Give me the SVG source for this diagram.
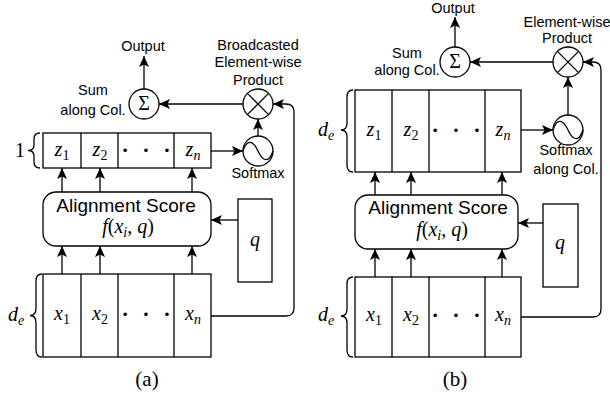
<svg xmlns="http://www.w3.org/2000/svg" width="610" height="399" viewBox="0 0 610 399">
<style>
.bx{fill:#fff;stroke:#000;stroke-width:1.3}
.ln{fill:none;stroke:#000;stroke-width:1.3}
.ar{fill:none;stroke:#000;stroke-width:1.3;marker-end:url(#ah)}
.lb{font-family:"Liberation Sans",Arial,sans-serif;font-size:14.5px;fill:#000;text-anchor:middle}
.big{font-family:"Liberation Sans",Arial,sans-serif;font-size:19px;fill:#000;text-anchor:middle}
.m{font-family:"Liberation Serif","Times New Roman",serif;font-style:italic;font-size:20px;fill:#000;text-anchor:middle}
.s{font-style:normal;font-size:14px}
.si{font-style:italic;font-size:14px}
.r{font-family:"Liberation Serif","Times New Roman",serif;font-size:20px;fill:#000;text-anchor:middle}
.cap{font-family:"Liberation Serif","Times New Roman",serif;font-size:21px;fill:#000;text-anchor:middle}
.dots{font-family:"Liberation Serif",serif;font-size:22px;font-weight:bold;fill:#000;text-anchor:middle;letter-spacing:4px}
</style>
<defs>
<marker id="ah" markerUnits="userSpaceOnUse" markerWidth="12" markerHeight="10" refX="11" refY="5" orient="auto">
<path d="M0,0 L11,5 L0,10 L2.5,5 Z" fill="#000"/>
</marker>
</defs>

<!-- ===== Panel (a) ===== -->
<g id="a-zvec">
<rect class="bx" x="43" y="133" width="168" height="35"/>
<line class="ln" x1="81" y1="133" x2="81" y2="168"/>
<line class="ln" x1="118" y1="133" x2="118" y2="168"/>
<line class="ln" x1="174" y1="133" x2="174" y2="168"/>
<text class="m" x="62" y="156">z<tspan class="s" dy="4">1</tspan></text>
<text class="m" x="100" y="156">z<tspan class="s" dy="4">2</tspan></text>
<text class="dots" x="148" y="157">· · ·</text>
<text class="m" x="193" y="156">z<tspan class="si" dy="4">n</tspan></text>
<path class="ln" d="M40,133 Q34,133 34,139 L34,145 Q34,150.5 28,150.5 Q34,150.5 34,156 L34,162 Q34,168 40,168"/>
<text class="r" x="20" y="157">1</text>
</g>

<g id="a-align">
<rect class="bx" x="43" y="192" width="168" height="54" rx="13"/>
<text class="big" x="126" y="212">Alignment Score</text>
<text class="m" x="128" y="233">f<tspan font-style="normal">(</tspan>x<tspan class="si" dy="4">i</tspan><tspan dy="-4" font-style="normal">, </tspan>q<tspan font-style="normal">)</tspan></text>
</g>

<g id="a-q">
<rect class="bx" x="238" y="199" width="34" height="83"/>
<text class="m" x="255" y="246">q</text>
</g>

<g id="a-xvec">
<rect class="bx" x="43" y="274" width="168" height="83"/>
<line class="ln" x1="81" y1="274" x2="81" y2="357"/>
<line class="ln" x1="118" y1="274" x2="118" y2="357"/>
<line class="ln" x1="174" y1="274" x2="174" y2="357"/>
<text class="m" x="62" y="320">x<tspan class="s" dy="4">1</tspan></text>
<text class="m" x="100" y="320">x<tspan class="s" dy="4">2</tspan></text>
<text class="dots" x="148" y="321">· · ·</text>
<text class="m" x="193" y="320">x<tspan class="si" dy="4">n</tspan></text>
<path class="ln" d="M42,274 Q36,274 36,281 L36,308 Q36,315.5 30,315.5 Q36,315.5 36,323 L36,350 Q36,357 42,357"/>
<text class="m" x="16" y="321">d<tspan class="si" dy="4">e</tspan></text>
</g>

<g id="a-softmax">
<circle class="bx" cx="258" cy="151" r="15"/>
<path class="ln" d="M243,151 C247,139 253,140 258,151 C263,162 269,163 273,151"/>
<text class="lb" x="258" y="178">Softmax</text>
</g>

<g id="a-prod">
<circle class="bx" cx="258" cy="104" r="15"/>
<line class="ln" x1="247.4" y1="93.4" x2="268.6" y2="114.6"/>
<line class="ln" x1="247.4" y1="114.6" x2="268.6" y2="93.4"/>
<text class="lb" x="258" y="50">Broadcasted</text>
<text class="lb" x="258" y="67">Element-wise</text>
<text class="lb" x="258" y="85">Product</text>
</g>

<g id="a-sum">
<circle class="bx" cx="144" cy="104" r="15"/>
<text class="r" x="144" y="110">Σ</text>
<text class="lb" x="93" y="95">Sum</text>
<text class="lb" x="93" y="115">along Col.</text>
</g>

<g id="a-output">
<text class="lb" x="143" y="51">Output</text>
</g>

<text class="cap" x="147" y="386">(a)</text>

<!-- ===== Panel (b) ===== -->
<g id="b-zvec">
<rect class="bx" x="355" y="90" width="166" height="82"/>
<line class="ln" x1="392" y1="90" x2="392" y2="172"/>
<line class="ln" x1="429" y1="90" x2="429" y2="172"/>
<line class="ln" x1="485" y1="90" x2="485" y2="172"/>
<text class="m" x="374" y="136">z<tspan class="s" dy="4">1</tspan></text>
<text class="m" x="411" y="136">z<tspan class="s" dy="4">2</tspan></text>
<text class="dots" x="458" y="137">· · ·</text>
<text class="m" x="503" y="136">z<tspan class="si" dy="4">n</tspan></text>
<path class="ln" d="M353,90 Q347,90 347,97 L347,123 Q347,130 341,130 Q347,130 347,137 L347,165 Q347,172 353,172"/>
<text class="m" x="326" y="136">d<tspan class="si" dy="4">e</tspan></text>
</g>

<g id="b-align">
<rect class="bx" x="355" y="195" width="163" height="54" rx="13"/>
<text class="big" x="438" y="214">Alignment Score</text>
<text class="m" x="442" y="236">f<tspan font-style="normal">(</tspan>x<tspan class="si" dy="4">i</tspan><tspan dy="-4" font-style="normal">, </tspan>q<tspan font-style="normal">)</tspan></text>
</g>

<g id="b-q">
<rect class="bx" x="543" y="204" width="35" height="83"/>
<text class="m" x="560" y="249">q</text>
</g>

<g id="b-xvec">
<rect class="bx" x="355" y="277" width="166" height="80"/>
<line class="ln" x1="392" y1="277" x2="392" y2="357"/>
<line class="ln" x1="429" y1="277" x2="429" y2="357"/>
<line class="ln" x1="485" y1="277" x2="485" y2="357"/>
<text class="m" x="374" y="321">x<tspan class="s" dy="4">1</tspan></text>
<text class="m" x="411" y="321">x<tspan class="s" dy="4">2</tspan></text>
<text class="dots" x="458" y="322">· · ·</text>
<text class="m" x="503" y="321">x<tspan class="si" dy="4">n</tspan></text>
<path class="ln" d="M353,277 Q347,277 347,284 L347,309 Q347,316 341,316 Q347,316 347,323 L347,350 Q347,357 353,357"/>
<text class="m" x="326" y="321">d<tspan class="si" dy="4">e</tspan></text>
</g>

<g id="b-softmax">
<circle class="bx" cx="568" cy="130" r="15"/>
<path class="ln" d="M553,130 C557,118 563,119 568,130 C573,141 579,142 583,130"/>
<text class="lb" x="566" y="155">Softmax</text>
<text class="lb" x="566" y="174">along Col.</text>
</g>

<g id="b-prod">
<circle class="bx" cx="568" cy="62" r="15"/>
<line class="ln" x1="557.4" y1="51.4" x2="578.6" y2="72.6"/>
<line class="ln" x1="557.4" y1="72.6" x2="578.6" y2="51.4"/>
<text class="lb" x="567" y="27">Element-wise</text>
<text class="lb" x="567" y="43">Product</text>
</g>

<g id="b-sum">
<circle class="bx" cx="455" cy="62" r="15"/>
<text class="r" x="455" y="68">Σ</text>
<text class="lb" x="407" y="58">Sum</text>
<text class="lb" x="407" y="75">along Col.</text>
</g>

<g id="b-output">
<text class="lb" x="453" y="13">Output</text>
</g>

<text class="cap" x="455" y="386">(b)</text>

<!-- ===== Connectors ===== -->
<g id="connectors">
<!-- panel a -->
<line class="ar" x1="62" y1="274" x2="62" y2="246"/>
<line class="ar" x1="100" y1="274" x2="100" y2="246"/>
<line class="ar" x1="192" y1="274" x2="192" y2="246"/>
<line class="ar" x1="62" y1="192" x2="62" y2="168"/>
<line class="ar" x1="100" y1="192" x2="100" y2="168"/>
<line class="ar" x1="192" y1="192" x2="192" y2="168"/>
<line class="ar" x1="238" y1="220" x2="211" y2="220"/>
<line class="ar" x1="211" y1="151" x2="243" y2="151"/>
<line class="ar" x1="258" y1="136" x2="258" y2="119"/>
<line class="ar" x1="243" y1="104" x2="159" y2="104"/>
<line class="ar" x1="144" y1="89" x2="144" y2="56"/>
<path class="ar" d="M211,316 L286,316 Q294,316 294,308 L294,112 Q294,104 286,104 L273,104"/>
<!-- panel b -->
<line class="ar" x1="375" y1="277" x2="375" y2="249"/>
<line class="ar" x1="411" y1="277" x2="411" y2="249"/>
<line class="ar" x1="502" y1="277" x2="502" y2="249"/>
<line class="ar" x1="375" y1="195" x2="375" y2="172"/>
<line class="ar" x1="411" y1="195" x2="411" y2="172"/>
<line class="ar" x1="502" y1="195" x2="502" y2="172"/>
<line class="ar" x1="543" y1="223" x2="518" y2="223"/>
<line class="ar" x1="521" y1="130" x2="553" y2="130"/>
<line class="ar" x1="568" y1="115" x2="568" y2="77"/>
<line class="ar" x1="553" y1="62" x2="470" y2="62"/>
<line class="ar" x1="455" y1="47" x2="455" y2="17"/>
<path class="ar" d="M521,317 L593,317 Q601,317 601,309 L601,70 Q601,62 593,62 L583,62"/>
</g>
</svg>
